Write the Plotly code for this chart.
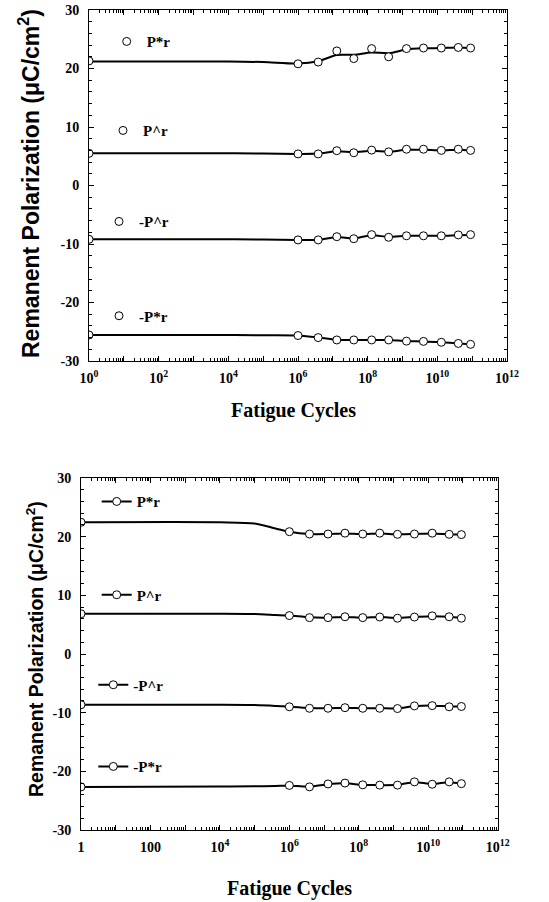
import plotly.graph_objects as go

W, H = 549, 902

# ---------------- data ----------------
CYCLES = [1, 1e6, 3.8e6, 1.3e7, 4e7, 1.3e8, 4e8, 1.3e9, 4e9, 1.3e10, 4e10, 9e10]
SERIES = ["P*r", "P^r", "-P^r", "-P*r"]

TOP_PSTAR = [21.3, 20.8, 21.1, 23.0, 21.7, 23.4, 22.0, 23.4, 23.5, 23.5, 23.6, 23.5]
TOP_PHAT = [5.5, 5.4, 5.4, 5.95, 5.6, 6.05, 5.75, 6.2, 6.2, 6.0, 6.2, 6.0]
TOP_NPHAT = [-9.2, -9.3, -9.3, -8.75, -9.1, -8.4, -8.85, -8.6, -8.6, -8.6, -8.45, -8.4]
TOP_NPSTAR = [-25.55, -25.65, -26.0, -26.4, -26.4, -26.4, -26.4, -26.6, -26.65, -26.8, -27.0, -27.15]

TOP_FIT_X = [1, 1e4, 1e5, 1e6, 3.8e6, 1.3e7, 4e7, 1.3e8, 4e8, 1.3e9, 4e9, 1.3e10, 4e10, 9e10]
TOP_FIT_PSTAR = [21.2, 21.2, 21.1, 20.85, 21.25, 22.3, 22.35, 22.75, 22.6, 23.25, 23.45, 23.5, 23.6, 23.5]
TOP_FIT_PHAT = [5.5, 5.5, 5.45, 5.4, 5.45, 5.85, 5.7, 5.95, 5.8, 6.1, 6.1, 6.0, 6.1, 6.0]
TOP_FIT_NPHAT = [-9.2, -9.2, -9.25, -9.3, -9.3, -8.8, -9.05, -8.5, -8.8, -8.6, -8.6, -8.6, -8.5, -8.45]
TOP_FIT_NPSTAR = [-25.55, -25.55, -25.6, -25.65, -26.0, -26.35, -26.4, -26.4, -26.4, -26.6, -26.65, -26.8, -27.0, -27.15]

BOT_PSTAR = [22.45, 20.85, 20.45, 20.45, 20.6, 20.45, 20.6, 20.4, 20.45, 20.6, 20.4, 20.35]
BOT_PHAT = [6.85, 6.55, 6.2, 6.2, 6.35, 6.2, 6.3, 6.1, 6.3, 6.5, 6.35, 6.1]
BOT_NPHAT = [-8.65, -9.0, -9.25, -9.25, -9.15, -9.25, -9.25, -9.3, -8.85, -8.8, -9.0, -8.95]
BOT_NPSTAR = [-22.65, -22.4, -22.65, -22.15, -22.0, -22.3, -22.35, -22.35, -21.8, -22.2, -21.8, -22.1]

BOT_FIT_X = [1, 1e4, 1e5, 4e5, 1e6, 3.8e6, 1.3e7, 4e7, 1.3e8, 4e8, 1.3e9, 4e9, 1.3e10, 4e10, 9e10]
BOT_FIT_PSTAR = [22.45, 22.45, 22.25, 21.4, 20.85, 20.45, 20.45, 20.55, 20.45, 20.55, 20.4, 20.45, 20.55, 20.4, 20.35]
BOT_FIT_PHAT = [6.85, 6.85, 6.8, 6.65, 6.55, 6.25, 6.2, 6.3, 6.2, 6.3, 6.15, 6.3, 6.45, 6.35, 6.15]
BOT_FIT_NPHAT = [-8.65, -8.65, -8.7, -8.85, -9.0, -9.2, -9.25, -9.15, -9.25, -9.25, -9.25, -8.9, -8.8, -8.95, -8.95]
BOT_FIT_NPSTAR = [-22.65, -22.6, -22.55, -22.5, -22.45, -22.6, -22.2, -22.05, -22.3, -22.35, -22.3, -21.85, -22.15, -21.85, -22.1]

TOP_TICK_TEXT = ["10<sup>0</sup>", "", "10<sup>2</sup>", "", "10<sup>4</sup>", "", "10<sup>6</sup>", "",
                 "10<sup>8</sup>", "", "10<sup>10</sup>", "", "10<sup>12</sup>"]
BOT_TICK_TEXT = ["1", "", "100", "", "10<sup>4</sup>", "", "10<sup>6</sup>", "",
                 "10<sup>8</sup>", "", "10<sup>10</sup>", "", "10<sup>12</sup>"]
Y_TICKS = [-30, -20, -10, 0, 10, 20, 30]
Y_TICK_TEXT = ["-30", "-20", "-10", "0", "10", "20", "30"]

# legend anchor positions (pixels: left edge x, centre y)
TOP_LEG_POS = [(106.7, 41.7), (103, 130.7), (99, 221.7), (99, 316)]
BOT_LEG_POS = [(96.7, 501.7), (96.7, 595), (93.3, 685), (93.3, 766.7)]

# ---------------- figure ----------------
def px_x(p):
    return p / W

def px_y(p):
    return 1 - p / H

SERIF = "Liberation Serif"
SANS = "Liberation Sans"

fig = go.Figure()

top_pts = [TOP_PSTAR, TOP_PHAT, TOP_NPHAT, TOP_NPSTAR]
top_fit = [TOP_FIT_PSTAR, TOP_FIT_PHAT, TOP_FIT_NPHAT, TOP_FIT_NPSTAR]
bot_pts = [BOT_PSTAR, BOT_PHAT, BOT_NPHAT, BOT_NPSTAR]
bot_fit = [BOT_FIT_PSTAR, BOT_FIT_PHAT, BOT_FIT_NPHAT, BOT_FIT_NPSTAR]

marker = dict(symbol="circle", size=8, color="white", line=dict(color="black", width=1))
line = dict(color="black", width=2, shape="spline", smoothing=0.8)

def leg_name(i):
    return "legend" if i == 1 else f"legend{i}"

leg_i = 1
for name, pts, fit in zip(SERIES, top_pts, top_fit):
    fig.add_trace(go.Scatter(x=TOP_FIT_X, y=fit, mode="lines", line=line,
                             showlegend=False, xaxis="x", yaxis="y", hoverinfo="skip"))
    fig.add_trace(go.Scatter(x=CYCLES, y=pts, mode="markers", marker=marker, name=name,
                             xaxis="x", yaxis="y", legend=leg_name(leg_i)))
    leg_i += 1

for name, pts, fit in zip(SERIES, bot_pts, bot_fit):
    fig.add_trace(go.Scatter(x=BOT_FIT_X, y=fit, mode="lines", line=line,
                             showlegend=False, xaxis="x2", yaxis="y2", hoverinfo="skip"))
    fig.add_trace(go.Scatter(x=CYCLES, y=pts, mode="markers", marker=marker, name=name,
                             showlegend=False, xaxis="x2", yaxis="y2"))
    # legend entry (line + marker symbol) for this series
    fig.add_trace(go.Scatter(x=[None], y=[None], mode="lines+markers", marker=marker,
                             line=dict(color="black", width=2), name=name,
                             xaxis="x2", yaxis="y2", legend=leg_name(leg_i)))
    leg_i += 1

decades = [10 ** d for d in range(0, 13)]
minor_vals = [k * 10 ** d for d in range(0, 12) for k in range(2, 10)]

tickfont = dict(family=SERIF, size=14, color="black", weight="bold")

def xaxis_cfg(domain, anchor, ticktext):
    return dict(type="log", range=[0, 12], domain=domain, anchor=anchor, automargin=False,
                showline=True, linecolor="black", linewidth=1, mirror="allticks",
                ticks="inside", ticklen=5, tickcolor="black", tickwidth=1,
                tickmode="array", tickvals=decades, ticktext=ticktext,
                minor=dict(tickmode="array", tickvals=minor_vals, ticks="inside", ticklen=3,
                           tickcolor="black", showgrid=False),
                showgrid=False, zeroline=False, tickfont=tickfont, ticklabelstandoff=4,
                ticklabeloverflow="allow")

def yaxis_cfg(domain, anchor):
    return dict(range=[-30, 30], domain=domain, anchor=anchor, automargin=False,
                showline=True, linecolor="black", linewidth=1, mirror="allticks",
                ticks="inside", ticklen=5, tickcolor="black", tickwidth=1,
                tickmode="array", tickvals=Y_TICKS, ticktext=Y_TICK_TEXT,
                minor=dict(dtick=2, ticks="inside", ticklen=3, tickcolor="black", showgrid=False),
                showgrid=False, zeroline=False, tickfont=tickfont, ticklabelstandoff=6,
                ticklabeloverflow="allow")

layout = dict(
    template="none",
    width=W, height=H, margin=dict(l=0, r=0, t=0, b=0, pad=0),
    paper_bgcolor="white", plot_bgcolor="white",
    xaxis=xaxis_cfg([px_x(89), px_x(507)], "y", TOP_TICK_TEXT),
    yaxis=yaxis_cfg([px_y(361), px_y(10)], "x"),
    xaxis2=xaxis_cfg([px_x(81), px_x(497.7)], "y2", BOT_TICK_TEXT),
    yaxis2=yaxis_cfg([px_y(830), px_y(478)], "x2"),
)

for i, (lx, ly) in enumerate(TOP_LEG_POS + BOT_LEG_POS):
    layout[leg_name(i + 1)] = dict(x=px_x(lx), y=px_y(ly), xanchor="left", yanchor="middle",
                                   bgcolor="rgba(0,0,0,0)", borderwidth=0,
                                   font=dict(family=SERIF, size=15, color="black", weight="bold"),
                                   itemwidth=30, tracegroupgap=0)

annotations = []
for cy, cx, fs in [(184, 29, 23), (649, 35, 19.5)]:
    annotations.append(dict(text="Remanent Polarization (μC/cm<sup>2</sup>)", textangle=-90,
                            x=px_x(cx), y=px_y(cy), xref="paper", yref="paper",
                            showarrow=False, xanchor="center", yanchor="middle",
                            font=dict(family=SANS, size=fs, color="black", weight="bold")))
for cx, cy in [(293, 410), (289, 888)]:
    annotations.append(dict(text="Fatigue Cycles", x=px_x(cx), y=px_y(cy),
                            xref="paper", yref="paper", showarrow=False,
                            xanchor="center", yanchor="middle",
                            font=dict(family=SERIF, size=20, color="black", weight="bold")))
layout["annotations"] = annotations

fig.update_layout(**layout)
# remove the browser's default 8px body margin so the figure fills the window exactly
fig.write_html("out.html", config={"displayModeBar": False},
               post_script="document.body.style.margin = '0px';")
